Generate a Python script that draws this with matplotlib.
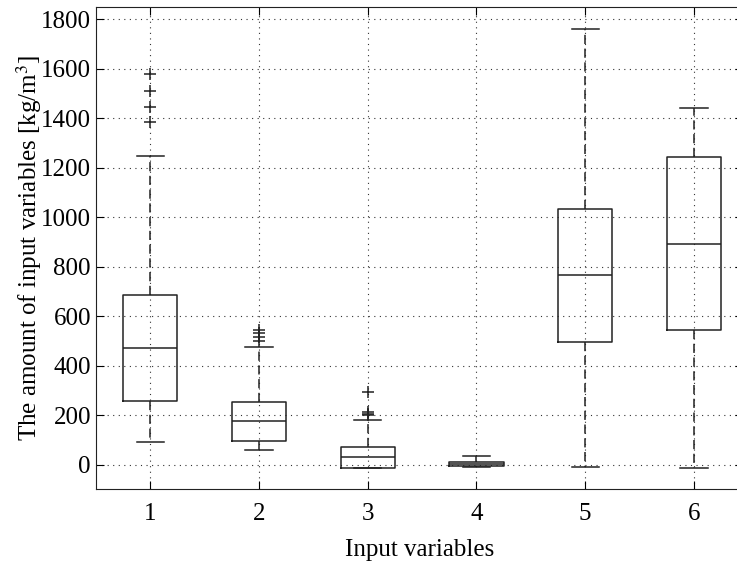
import matplotlib
matplotlib.use('Agg')
import matplotlib.pyplot as plt

plt.rcParams['font.family'] = ['Liberation Serif', 'DejaVu Serif']
plt.rcParams['mathtext.fontset'] = 'stix'

# box statistics
labels = ['1', '2', '3', '4', '5', '6']
whislo = [92, 57, -15, -8, -10, -13]
q1 = [258, 95, -13, -7, 497, 543]
med = [471, 175, 29, 2, 765, 893]
q3 = [686, 254, 70, 10, 1033, 1245]
whishi = [1247, 477, 181, 33, 1760, 1440]
fliers = [
    [1580, 1510, 1445, 1385],
    [500, 515, 530, 543],
    [200, 206, 212, 294],
    [],
    [],
    [],
]

stats = []
for i in range(len(labels)):
    stats.append({'label': labels[i], 'whislo': whislo[i], 'q1': q1[i],
                  'med': med[i], 'q3': q3[i], 'whishi': whishi[i],
                  'fliers': fliers[i]})

fig = plt.figure(figsize=(7.37, 5.79), dpi=100)
ax = fig.add_axes([0.130, 0.155, 0.878, 0.833])

ax.bxp(stats, widths=0.5, showfliers=True,
       boxprops=dict(color='#222222', linewidth=1.1),
       medianprops=dict(color='#222222', linewidth=1.1),
       whiskerprops=dict(color='#222222', linewidth=1.1, linestyle=(0, (6, 3))),
       capprops=dict(color='#222222', linewidth=1.1),
       flierprops=dict(marker='+', markeredgecolor='#222222', markersize=8, markeredgewidth=1.1))

ax.set_xlim(0.5, 6.45)
ax.set_ylim(-100, 1850)
ax.set_yticks(range(0, 1801, 200))
ax.grid(True, linestyle=(0, (1, 4)), color='#333333', linewidth=0.8)
ax.tick_params(direction='in', top=True, right=True, labelsize=18, length=6)
ax.tick_params(axis='x', pad=10)
for s in ax.spines.values():
    s.set_color('#222222')
ax.set_xlabel('Input variables', fontsize=18, labelpad=10)
ax.set_ylabel('The amount of input variables [kg/m$^3$]', fontsize=18, labelpad=-2)

fig.savefig('out.png', dpi=100)
